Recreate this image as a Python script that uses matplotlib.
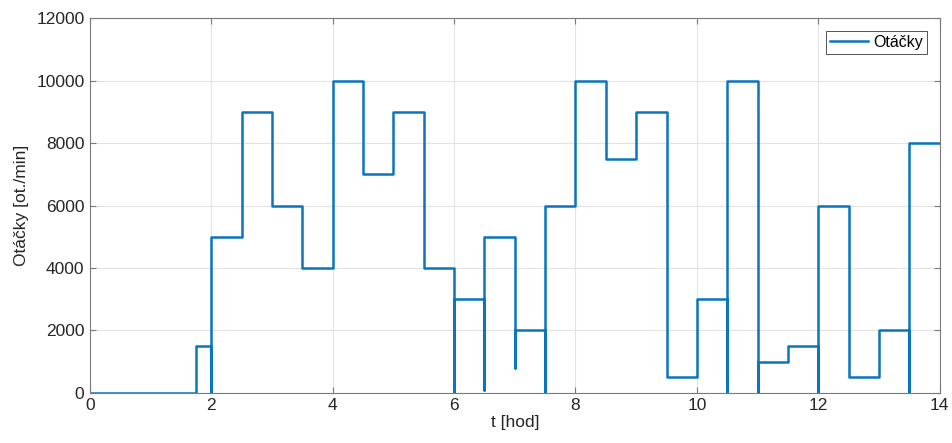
import numpy as np
import matplotlib.pyplot as plt

plt.rcParams['font.family'] = ['Liberation Sans', 'DejaVu Sans']

# Polyline vertices of the speed profile (time in hours, speed in rpm)
t_pts = [0, 1.75, 1.75, 2, 2, 2, 2.5, 2.5, 3, 3, 3.5, 3.5, 4, 4, 4.5, 4.5,
         5, 5, 5.5, 5.5, 6, 6, 6, 6.5, 6.5, 6.5, 7, 7, 7, 7.5, 7.5, 7.5,
         8, 8, 8.5, 8.5, 9, 9, 9.5, 9.5, 10, 10, 10.5, 10.5, 10.5, 11, 11, 11,
         11.5, 11.5, 12, 12, 12, 12.5, 12.5, 13, 13, 13.5, 13.5, 13.5, 14]
rpm_pts = [0, 0, 1500, 1500, 0, 5000, 5000, 9000, 9000, 6000, 6000, 4000,
           4000, 10000, 10000, 7000, 7000, 9000, 9000, 4000, 4000, 0, 3000,
           3000, 100, 5000, 5000, 800, 2000, 2000, 0, 6000, 6000, 10000,
           10000, 7500, 7500, 9000, 9000, 500, 500, 3000, 3000, 0, 10000,
           10000, 0, 1000, 1000, 1500, 1500, 0, 6000, 6000, 500, 500, 2000,
           2000, 0, 8000, 8000]

fig = plt.figure(figsize=(9.52, 4.43), dpi=100)
ax = fig.add_axes([0.0945, 0.113, 0.8925, 0.846])

ax.plot(t_pts, rpm_pts, color='#0a74bf', linewidth=1.8, label='Otáčky')

ax.set_xlim(0, 14)
ax.set_ylim(0, 12000)
ax.set_xticks(np.arange(0, 15, 2))
ax.set_yticks(np.arange(0, 12001, 2000))
ax.grid(True, color='#e3e3e3', linewidth=0.8)
ax.set_axisbelow(True)

for s in ax.spines.values():
    s.set_color('#7a7a7a')
    s.set_linewidth(0.8)
ax.tick_params(direction='in', top=True, right=True, length=4,
               color='#7a7a7a', labelsize=12.5, labelcolor='#262626', pad=4)

ax.set_xlabel('t [hod]', fontsize=12.5, color='#262626', labelpad=1)
ax.set_ylabel('Otáčky [ot./min]', fontsize=12.5, color='#262626', labelpad=5)

leg = ax.legend(loc='upper right', fontsize=11.5, fancybox=False,
                handlelength=2.4, borderpad=0.25, handletextpad=0.3,
                borderaxespad=0.8)
leg.get_frame().set_edgecolor('#262626')
leg.get_frame().set_linewidth(0.7)

fig.savefig('out.png', dpi=100)
